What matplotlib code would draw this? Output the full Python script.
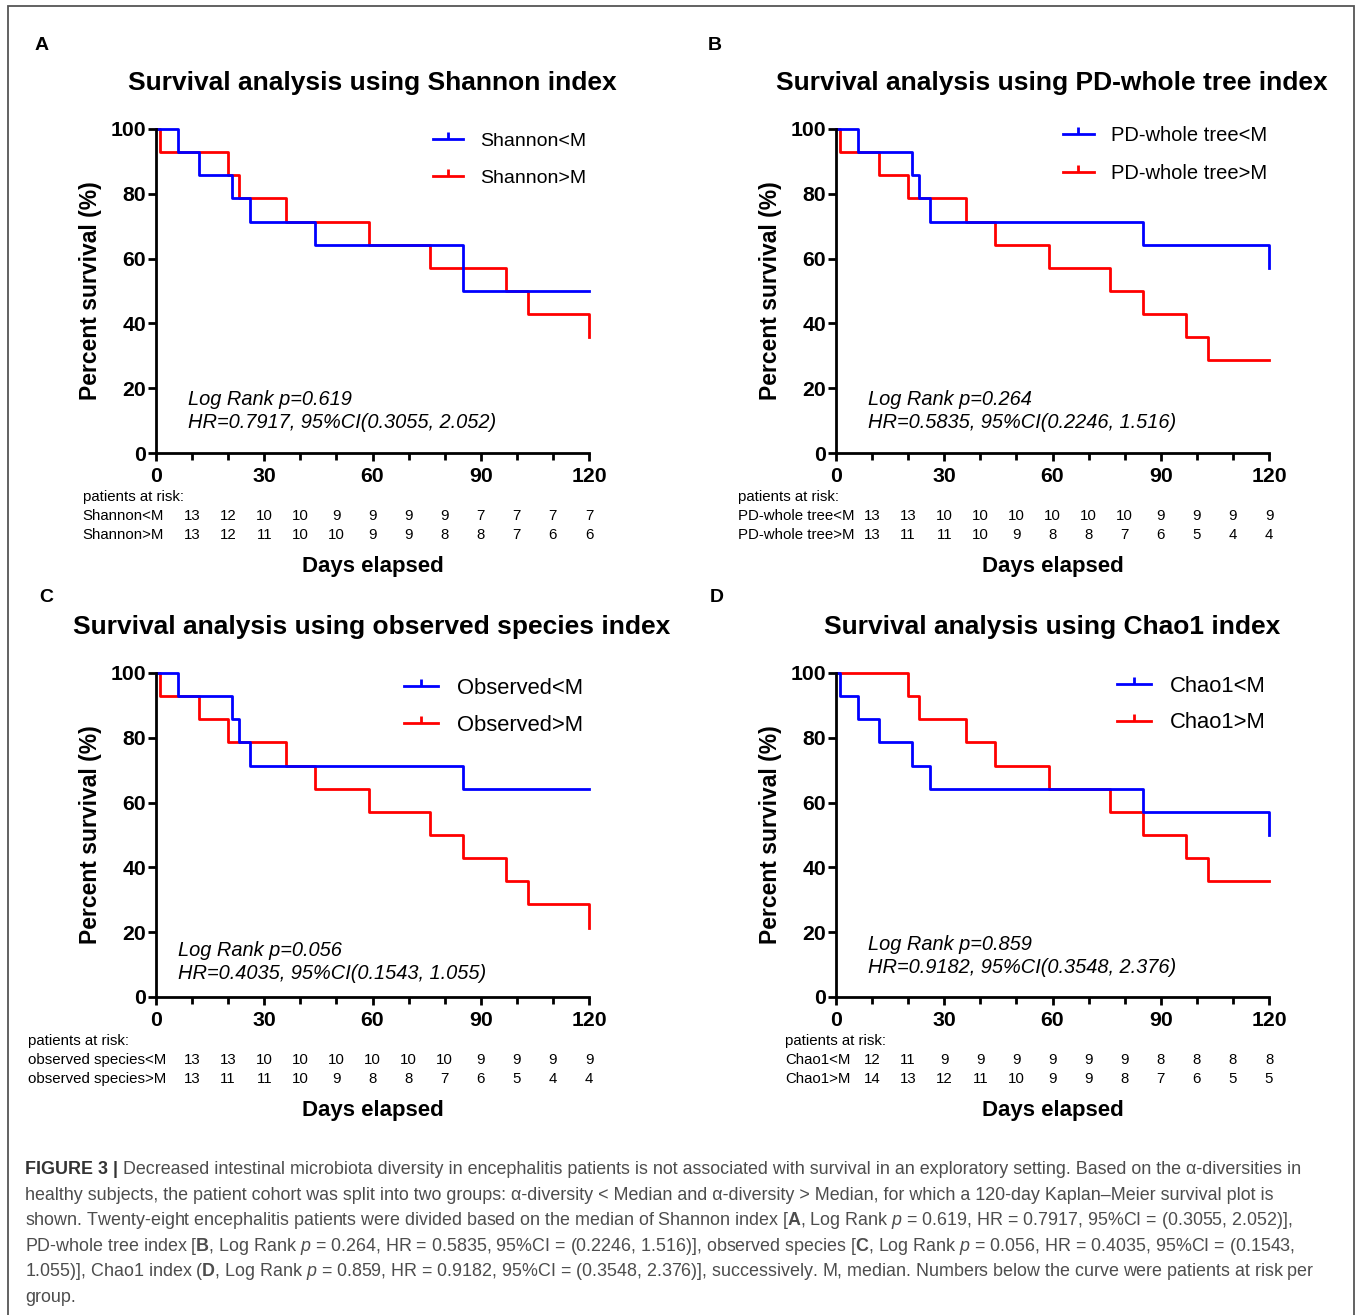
import matplotlib

matplotlib.use("Agg")
import matplotlib.pyplot as plt
from matplotlib.lines import Line2D
from matplotlib.patches import Rectangle

plt.rcParams["font.family"] = ["Liberation Sans", "DejaVu Sans"]
plt.rcParams["mathtext.fontset"] = "custom"
plt.rcParams["mathtext.rm"] = "Liberation Sans"
plt.rcParams["mathtext.it"] = "Liberation Sans:italic"
plt.rcParams["mathtext.bf"] = "Liberation Sans:bold"

W, H = 1357, 1315
BLUE, RED = "#0000ff", "#ff0000"

# ---- data (days, percent survival) ----
shannon_lo_t = [0, 6, 12, 21, 26, 44, 85, 120]
shannon_lo_s = [100, 92.9, 85.7, 78.6, 71.4, 64.3, 50.0, 50.0]
shannon_hi_t = [0, 1, 20, 23, 36, 59, 76, 97, 103, 120, 120]
shannon_hi_s = [100, 92.9, 85.7, 78.6, 71.4, 64.3, 57.1, 50.0, 42.9, 42.9, 35.7]

pd_lo_t = [0, 6, 21, 23, 26, 85, 120, 120]
pd_lo_s = [100, 92.9, 85.7, 78.6, 71.4, 64.3, 64.3, 57.1]
pd_hi_t = [0, 1, 12, 20, 36, 44, 59, 76, 85, 97, 103, 120]
pd_hi_s = [100, 92.9, 85.7, 78.6, 71.4, 64.3, 57.1, 50.0, 42.9, 35.7, 28.6, 28.6]

obs_lo_t = [0, 6, 21, 23, 26, 85, 120]
obs_lo_s = [100, 92.9, 85.7, 78.6, 71.4, 64.3, 64.3]
obs_hi_t = [0, 1, 12, 20, 36, 44, 59, 76, 85, 97, 103, 120, 120]
obs_hi_s = [100, 92.9, 85.7, 78.6, 71.4, 64.3, 57.1, 50.0, 42.9, 35.7, 28.6, 28.6, 21.4]

chao_lo_t = [0, 1, 6, 12, 21, 26, 85, 120, 120]
chao_lo_s = [100, 92.9, 85.7, 78.6, 71.4, 64.3, 57.1, 57.1, 50.0]
chao_hi_t = [0, 20, 23, 36, 44, 59, 76, 85, 97, 103, 120]
chao_hi_s = [100, 92.9, 85.7, 78.6, 71.4, 64.3, 57.1, 50.0, 42.9, 35.7, 35.7]

risk_days = [10, 20, 30, 40, 50, 60, 70, 80, 90, 100, 110, 120]
shannon_lo_risk = [13, 12, 10, 10, 9, 9, 9, 9, 7, 7, 7, 7]
shannon_hi_risk = [13, 12, 11, 10, 10, 9, 9, 8, 8, 7, 6, 6]
pd_lo_risk = [13, 13, 10, 10, 10, 10, 10, 10, 9, 9, 9, 9]
pd_hi_risk = [13, 11, 11, 10, 9, 8, 8, 7, 6, 5, 4, 4]
obs_lo_risk = [13, 13, 10, 10, 10, 10, 10, 10, 9, 9, 9, 9]
obs_hi_risk = [13, 11, 11, 10, 9, 8, 8, 7, 6, 5, 4, 4]
chao_lo_risk = [12, 11, 9, 9, 9, 9, 9, 9, 8, 8, 8, 8]
chao_hi_risk = [14, 13, 12, 11, 10, 9, 9, 8, 7, 6, 5, 5]

PANELS = [
    dict(letter="A", title="Survival analysis using Shannon index",
         names=("Shannon<M", "Shannon>M"),
         lo=(shannon_lo_t, shannon_lo_s), hi=(shannon_hi_t, shannon_hi_s),
         risk=(shannon_lo_risk, shannon_hi_risk),
         stats=("Log Rank p=0.619", "HR=0.7917, 95%CI(0.3055, 2.052)"),
         box=(156, 129), letter_xy=(42, 46), leg=(0.640, 0.991), leg_fs=14,
         leg_sp=1.03, stat_xy=(9, 16.4, 9.3), risk_x=-0.169),
    dict(letter="B", title="Survival analysis using PD-whole tree index",
         names=("PD-whole tree<M", "PD-whole tree>M"),
         lo=(pd_lo_t, pd_lo_s), hi=(pd_hi_t, pd_hi_s),
         risk=(pd_lo_risk, pd_hi_risk),
         stats=("Log Rank p=0.264", "HR=0.5835, 95%CI(0.2246, 1.516)"),
         box=(836, 129), letter_xy=(715, 46), leg=(0.524, 1.010), leg_fs=14.5,
         leg_sp=0.97, stat_xy=(9, 16.4, 9.3), risk_x=-0.226),
    dict(letter="C", title="Survival analysis using observed species index",
         names=("Observed<M", "Observed>M"),
         lo=(obs_lo_t, obs_lo_s), hi=(obs_hi_t, obs_hi_s),
         risk=(obs_lo_risk, obs_hi_risk),
         stats=("Log Rank p=0.056", "HR=0.4035, 95%CI(0.1543, 1.055)"),
         box=(156, 673), letter_xy=(46, 597), leg=(0.573, 0.985), leg_fs=15.8,
         leg_sp=0.72, stat_xy=(6, 14.5, 7.1), risk_x=-0.296),
    dict(letter="D", title="Survival analysis using Chao1 index",
         names=("Chao1<M", "Chao1>M"),
         lo=(chao_lo_t, chao_lo_s), hi=(chao_hi_t, chao_hi_s),
         risk=(chao_lo_risk, chao_hi_risk),
         stats=("Log Rank p=0.859", "HR=0.9182, 95%CI(0.3548, 2.376)"),
         box=(836, 673), letter_xy=(717, 598), leg=(0.650, 0.991), leg_fs=15.8,
         leg_sp=0.70, stat_xy=(9, 16.3, 9.2), risk_x=-0.118),
]

CAPTION = [
    " Decreased intestinal microbiota diversity in encephalitis patients is not associated with survival in an exploratory setting. Based on the \u03b1-diversities in",
    "healthy subjects, the patient cohort was split into two groups: \u03b1-diversity < Median and \u03b1-diversity > Median, for which a 120-day Kaplan\u2013Meier survival plot is",
    r"shown. Twenty-eight encephalitis patients were divided based on the median of Shannon index [$\mathbf{A}$, Log Rank $p$ = 0.619, HR = 0.7917, 95%CI = (0.3055, 2.052)],",
    r"PD-whole tree index [$\mathbf{B}$, Log Rank $p$ = 0.264, HR = 0.5835, 95%CI = (0.2246, 1.516)], observed species [$\mathbf{C}$, Log Rank $p$ = 0.056, HR = 0.4035, 95%CI = (0.1543,",
    r"1.055)], Chao1 index ($\mathbf{D}$, Log Rank $p$ = 0.859, HR = 0.9182, 95%CI = (0.3548, 2.376)], successively. M, median. Numbers below the curve were patients at risk per",
    "group.",
]


def draw_panel(fig, p):
    x0, ytop = p["box"]
    aw, ah = 433, 324
    ax = fig.add_axes([x0 / W, 1 - (ytop + ah) / H, aw / W, ah / H])

    ax.step(*p["hi"], where="post", color=RED, lw=2.0, clip_on=False)
    ax.step(*p["lo"], where="post", color=BLUE, lw=2.0, clip_on=False)

    ax.set_xlim(0, 120)
    ax.set_ylim(0, 100)
    ax.set_xticks([0, 30, 60, 90, 120])
    ax.set_xticks(range(0, 121, 10), minor=True)
    ax.set_yticks([0, 20, 40, 60, 80, 100])
    for s in ("top", "right"):
        ax.spines[s].set_visible(False)
    for s in ("left", "bottom"):
        ax.spines[s].set_linewidth(2.0)
    ax.tick_params(axis="both", which="major", direction="out", length=6,
                   width=2.0, labelsize=15.3)
    ax.tick_params(axis="x", which="minor", direction="out", length=5, width=2.0)
    ax.tick_params(axis="x", which="major", pad=4)
    ax.tick_params(axis="y", which="major", pad=1)
    for lab in ax.get_xticklabels() + ax.get_yticklabels():
        lab.set_fontweight("bold")

    ax.set_ylabel("Percent survival (%)", fontsize=16.5, fontweight="bold")
    ax.yaxis.set_label_coords(-0.124, 0.5)

    ax.text(0.499, 1.141, p["title"], transform=ax.transAxes, ha="center",
            va="center", fontsize=19, fontweight="bold")

    # legend with censor-tick style handles
    handles = [
        Line2D([], [], color=BLUE, lw=2.0, marker=2, markersize=5, markeredgewidth=2.0),
        Line2D([], [], color=RED, lw=2.0, marker=2, markersize=5, markeredgewidth=2.0),
    ]
    ax.legend(handles, p["names"], loc="upper left", bbox_to_anchor=p["leg"],
              frameon=False, fontsize=p["leg_fs"], handlelength=1.55,
              handletextpad=0.85, labelspacing=p["leg_sp"], borderpad=0,
              borderaxespad=0, markerfirst=True)

    sx, sy1, sy2 = p["stat_xy"]
    ax.text(sx, sy1, p["stats"][0], fontsize=14.4, style="italic", va="center")
    ax.text(sx, sy2, p["stats"][1], fontsize=14.4, style="italic", va="center")

    # numbers at risk
    tr = ax.get_xaxis_transform()
    ax.text(p["risk_x"], -0.136, "patients at risk:", transform=ax.transAxes,
            fontsize=10.8, va="center")
    for row, (name, counts) in enumerate(zip(p["names"], p["risk"])):
        yy = -0.193 - 0.059 * row
        label = name
        if p["letter"] == "C":
            label = name.replace("Observed", "observed species")
        ax.text(p["risk_x"], yy, label, transform=ax.transAxes, fontsize=10.8,
                va="center")
        for d, n in zip(risk_days, counts):
            ax.text(d, yy, str(n), transform=tr, fontsize=10.8, ha="center",
                    va="center")

    ax.text(0.5, -0.349, "Days elapsed", transform=ax.transAxes, ha="center",
            va="center", fontsize=16, fontweight="bold")

    lx, ly = p["letter_xy"]
    fig.text(lx / W, 1 - ly / H, p["letter"], ha="center", va="center",
             fontsize=14, fontweight="bold")


def main():
    fig = plt.figure(figsize=(W / 100, H / 100), dpi=100)
    for p in PANELS:
        draw_panel(fig, p)

    # figure frame
    fig.patches.append(Rectangle((8 / W, -0.02), (1354 - 8) / W, 1.02 - 6 / H,
                                 transform=fig.transFigure, fill=False,
                                 edgecolor="#555555", lw=1.3))

    # caption
    renderer = fig.canvas.get_renderer()
    y0 = 1170
    fs = 12.9
    head = fig.text(25 / W, 1 - y0 / H, "FIGURE 3 |", fontsize=fs,
                    fontweight="bold", color="#333333", va="center")
    hx = head.get_window_extent(renderer).x1
    fig.text(hx / W, 1 - y0 / H, CAPTION[0], fontsize=fs, color="#4d4d4d",
             va="center")
    for i, line in enumerate(CAPTION[1:], start=1):
        fig.text(25 / W, 1 - (y0 + 25.4 * i) / H, line, fontsize=fs,
                 color="#4d4d4d", va="center")

    fig.savefig("out.png", dpi=100)


if __name__ == "__main__":
    main()
